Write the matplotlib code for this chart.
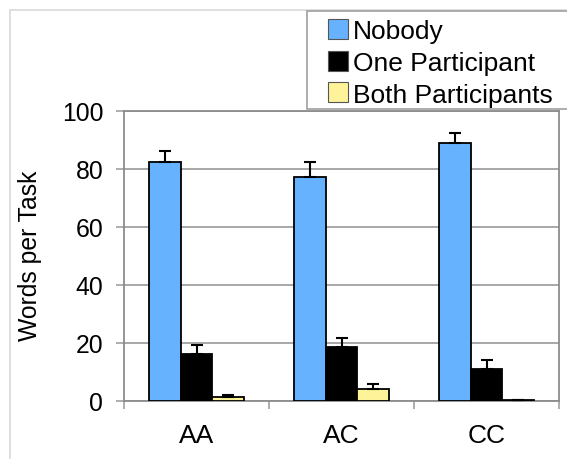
import matplotlib
matplotlib.use("Agg")
import matplotlib.pyplot as plt
import numpy as np
from matplotlib.patches import Rectangle

plt.rcParams['font.family'] = ['Liberation Sans', 'DejaVu Sans']

categories = ["AA", "AC", "CC"]
series = ["Nobody", "One Participant", "Both Participants"]
nobody = [82.3, 77.3, 89.0]
nobody_err = [3.8, 5.0, 3.4]
one = [16.2, 18.7, 11.0]
one_err = [3.2, 3.1, 3.2]
both = [1.5, 4.1, 0.4]
both_err = [0.6, 1.8, 0.0]
colors = ["#66B2FF", "#000000", "#FFF39A"]
yticks = [0, 20, 40, 60, 80, 100]

W, H = 567, 460
fig = plt.figure(figsize=(W / 100, H / 100), dpi=100)
# chart area border
fig.add_artist(Rectangle((10 / W, -0.1), 1.2, 1 - 10.5 / H + 0.1, transform=fig.transFigure,
                         fill=False, edgecolor="#d9d9d9", linewidth=1.2, zorder=-5))

ax = fig.add_axes([124 / W, 1 - 402 / H, (559 - 124) / W, (402 - 112) / H])

x = np.arange(len(categories))
bw = 0.22
data = [(nobody, nobody_err), (one, one_err), (both, both_err)]
for i, (vals, errs) in enumerate(data):
    pos = x + (i - 1) * bw
    ax.bar(pos, vals, bw, color=colors[i], edgecolor="black", linewidth=1.3, zorder=3,
           label=series[i])
    ax.errorbar(pos, vals, yerr=[np.zeros(len(errs)), errs], fmt="none", ecolor="black",
                elinewidth=1.5, capsize=4.3, capthick=1.5, zorder=4)

ax.set_xlim(-0.5, 2.5)
ax.set_ylim(0, 100)
ax.set_yticks(yticks)
ax.set_yticklabels([str(t) for t in yticks], fontsize=17.8)
ax.yaxis.grid(True, color="#a0a0a0", linewidth=1.3, zorder=0)
ax.set_axisbelow(True)
ax.set_xticks(x)
ax.set_xticklabels(categories, fontsize=19)
ax.set_xticks([-0.5, 0.5, 1.5, 2.5], minor=True)
ax.tick_params(axis="x", which="major", length=0, pad=16)
ax.tick_params(axis="x", which="minor", length=6, color="#a0a0a0", width=1.2, direction="out")
ax.tick_params(axis="y", length=6, color="#a0a0a0", width=1.2, pad=9)
for s in ax.spines.values():
    s.set_color("#8c8c8c")
    s.set_linewidth(1.3)

fig.text(30 / W, 1 - 256 / H, "Words per Task", rotation=90, fontsize=17.8,
         ha="center", va="center")

# legend (drawn in figure pixel space)
px = lambda v: v / W
py = lambda v: 1 - v / H
fig.add_artist(Rectangle((px(307), py(110)), px(575) - px(307), py(12) - py(110),
                         transform=fig.transFigure, facecolor="white",
                         edgecolor="#a0a0a0", linewidth=1.2, zorder=10))
row_y = [30, 62, 93]
for lab, col, ry in zip(series, colors, row_y):
    fig.add_artist(Rectangle((px(328), py(ry + 10)), 20 / W, 20 / H,
                             transform=fig.transFigure, facecolor=col,
                             edgecolor="#555555", linewidth=0.8, zorder=11))
    fig.text(px(353), py(ry), lab, fontsize=19, ha="left", va="center_baseline",
             zorder=12)

fig.savefig("out.png", dpi=100)
